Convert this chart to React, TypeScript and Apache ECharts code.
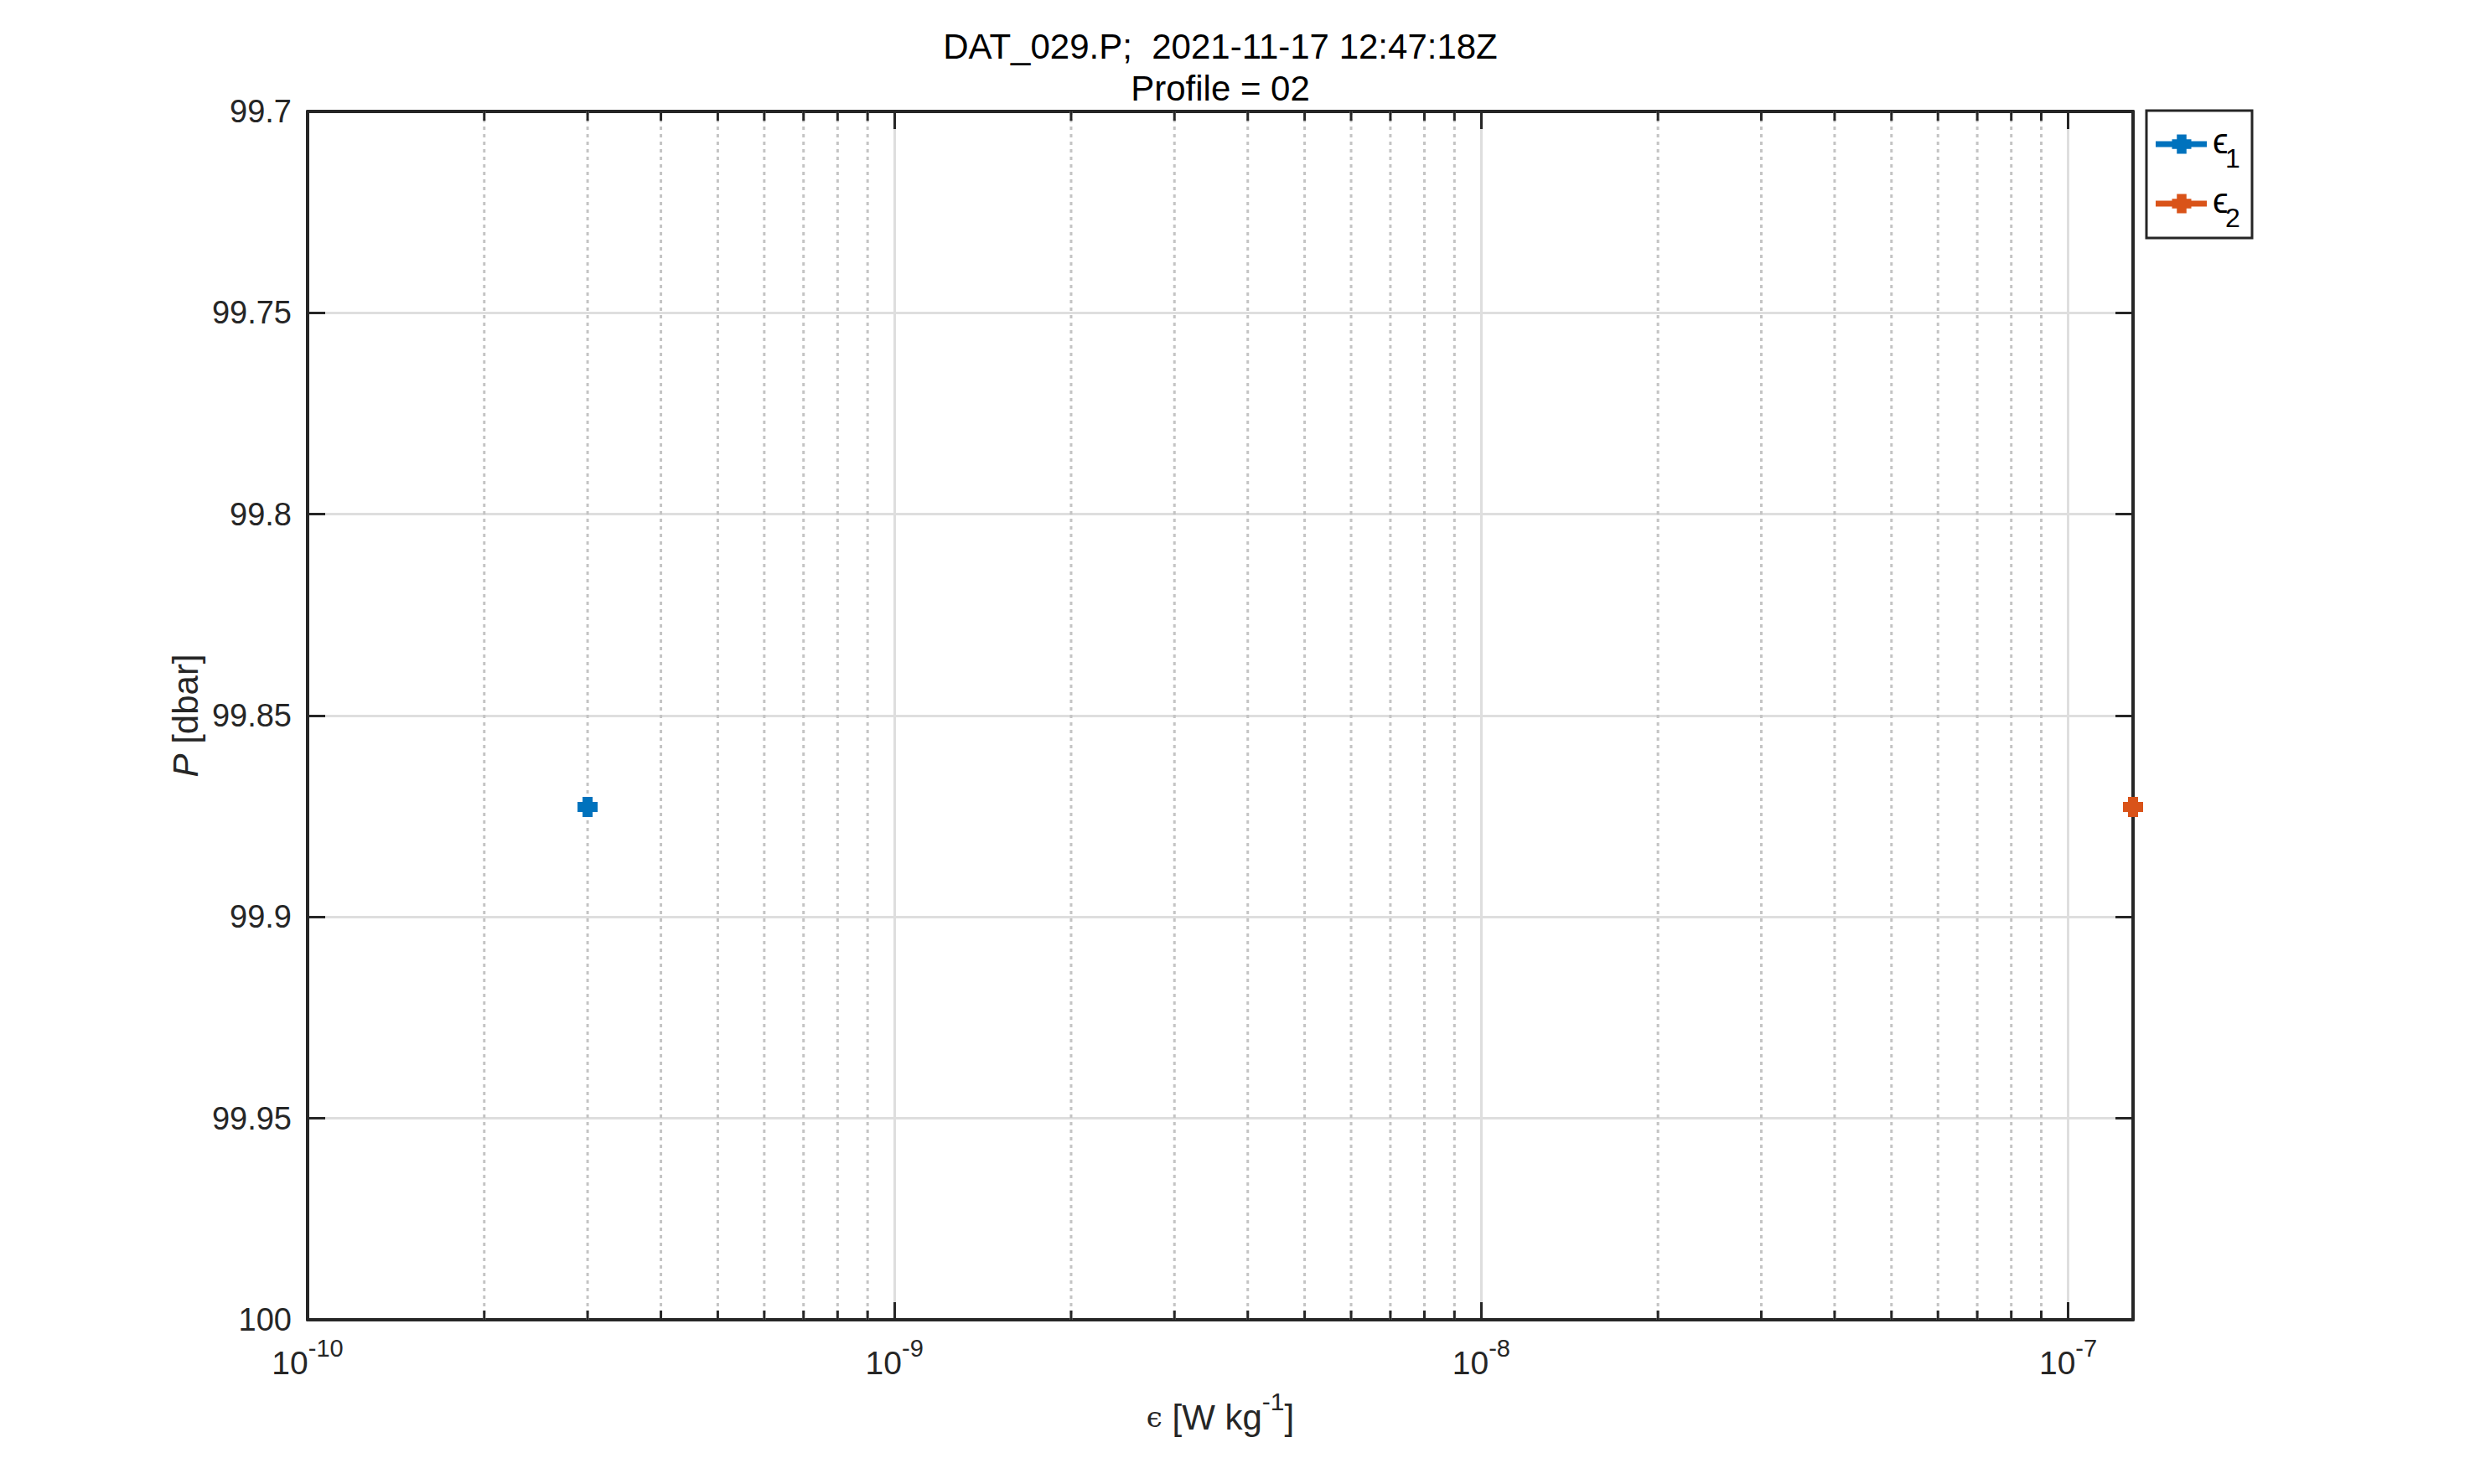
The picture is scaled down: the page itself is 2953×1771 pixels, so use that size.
import React, { useEffect, useRef } from 'react';
import * as echarts from 'echarts';

const titleLine1 = 'DAT_029.P;  2021-11-17 12:47:18Z';
const titleLine2 = 'Profile = 02';
const seriesNames = ['ϵ1', 'ϵ2'];
const eps1Data: [number, number][] = [[3.0e-10, 99.8727]];
const eps2Data: [number, number][] = [[1.29e-7, 99.8727]];
const xMin = 1e-10;
const xMax = 1.29e-7;
const yMin = 99.7;
const yMax = 100;
const yInterval = 0.05;
const minorXTicks = [
  2e-10, 3e-10, 4e-10, 5e-10, 6e-10, 7e-10, 8e-10, 9e-10,
  2e-9, 3e-9, 4e-9, 5e-9, 6e-9, 7e-9, 8e-9, 9e-9,
  2e-8, 3e-8, 4e-8, 5e-8, 6e-8, 7e-8, 8e-8, 9e-8,
];

const BLUE = '#0072BD';
const ORANGE = '#D95319';
const AXIS = '#262626';
const FONT = '"Liberation Sans", Arial, Helvetica, sans-serif';
const PLUS = 'path://M6,0H18V6H24V18H18V24H6V18H0V6H6Z';

function plusPoints(cx: number, cy: number, s: number) {
  const h = s / 2, a = s / 4;
  return [
    [cx - a, cy - h], [cx + a, cy - h], [cx + a, cy - a], [cx + h, cy - a],
    [cx + h, cy + a], [cx + a, cy + a], [cx + a, cy + h], [cx - a, cy + h],
    [cx - a, cy + a], [cx - h, cy + a], [cx - h, cy - a], [cx - a, cy - a],
  ];
}

export default function App() {
  const ref = useRef<HTMLDivElement>(null);
  useEffect(() => {
    if (!ref.current) return;
    const chart = echarts.init(ref.current, null, { renderer: 'svg' });
    const gridLeft = 367, gridTop = 133, gridRight = 2953 - 2545, gridBottom = 1771 - 1575;
    const legendItems = [
      { name: seriesNames[0], color: BLUE, y: 172 },
      { name: seriesNames[1], color: ORANGE, y: 243 },
    ];
    const legendGraphics: any[] = [
      { type: 'rect', shape: { x: 2561, y: 132, width: 126, height: 152 }, style: { fill: '#fff', stroke: AXIS, lineWidth: 3 }, z: 10 },
    ];
    legendItems.forEach((it) => {
      legendGraphics.push({ type: 'line', shape: { x1: 2572, y1: it.y, x2: 2633, y2: it.y }, style: { stroke: it.color, lineWidth: 7 }, z: 11 });
      legendGraphics.push({ type: 'polygon', shape: { points: plusPoints(2603, it.y, 23) }, style: { fill: it.color }, z: 12 });
      legendGraphics.push({ type: 'text', x: 2640, y: it.y - 4, style: { text: 'ϵ', fontSize: 42, fontFamily: FONT, fill: '#000', align: 'left', textAlign: 'left', verticalAlign: 'middle', textVerticalAlign: 'middle' }, z: 12 });
      legendGraphics.push({ type: 'text', x: 2655, y: it.y + 17, style: { text: it.name.slice(1), fontSize: 32, fontFamily: FONT, fill: '#000', align: 'left', textAlign: 'left', verticalAlign: 'middle', textVerticalAlign: 'middle' }, z: 12 });
    });

    const xLabelFmt = (v: number) => {
      const lg = Math.log10(v);
      const e = Math.round(lg);
      if (Math.abs(lg - e) > 0.01) return '';
      return `{b|10}{e|${e}}`;
    };

    const option: any = {
      animation: false,
      backgroundColor: '#fff',
      textStyle: { fontFamily: FONT },
      grid: { left: gridLeft, top: gridTop, right: gridRight, bottom: gridBottom, containLabel: false },
      graphic: [
        { type: 'text', x: 1456, y: 55, style: { text: titleLine1, fontSize: 42, fontFamily: FONT, fill: '#000', align: 'center', textAlign: 'center', verticalAlign: 'middle', textVerticalAlign: 'middle' } },
        { type: 'text', x: 1456, y: 105, style: { text: titleLine2, fontSize: 42, fontFamily: FONT, fill: '#000', align: 'center', textAlign: 'center', verticalAlign: 'middle', textVerticalAlign: 'middle' } },
        ...legendGraphics,
      ],
      xAxis: [
        {
          type: 'log', logBase: 10, min: xMin, max: xMax, position: 'bottom',
          axisLine: { show: true, onZero: false, lineStyle: { color: AXIS, width: 4 } },
          axisTick: { show: true, inside: true, length: 21, lineStyle: { color: AXIS, width: 3 } },
          axisLabel: {
            show: true, margin: 19, showMaxLabel: false, formatter: xLabelFmt, color: '#262626',
            rich: {
              b: { fontSize: 39, fontFamily: FONT, color: '#262626', lineHeight: 64 },
              e: { fontSize: 29, fontFamily: FONT, color: '#262626', lineHeight: 30, verticalAlign: 'top' },
            },
          },
          splitLine: { show: true, lineStyle: { color: '#dedede', width: 3 } },
          name: '{a|ϵ}{b| [W kg}{e|-1}{b|]}',
          nameLocation: 'middle', nameGap: 82,
          nameTextStyle: {
            rich: {
              a: { fontSize: 34, fontFamily: '"DejaVu Serif", serif', color: '#262626', lineHeight: 68 },
              b: { fontSize: 42, fontFamily: FONT, color: '#262626', lineHeight: 68 },
              e: { fontSize: 30, fontFamily: FONT, color: '#262626', lineHeight: 30, verticalAlign: 'top' },
            },
          },
        },
        {
          type: 'log', logBase: 10, min: xMin, max: xMax, position: 'top',
          axisLine: { show: true, onZero: false, lineStyle: { color: AXIS, width: 4 } },
          axisTick: { show: true, inside: true, length: 21, lineStyle: { color: AXIS, width: 3 } },
          axisLabel: { show: false },
          splitLine: { show: false },
        },
      ],
      yAxis: [
        {
          type: 'value', min: yMin, max: yMax, interval: yInterval, inverse: true, position: 'left',
          axisLine: { show: true, onZero: false, lineStyle: { color: AXIS, width: 4 } },
          axisTick: { show: true, inside: true, length: 21, lineStyle: { color: AXIS, width: 3 } },
          axisLabel: {
            show: true, margin: 19, fontSize: 38, fontFamily: FONT, color: '#262626',
            formatter: (v: number) => String(parseFloat(v.toFixed(2))),
          },
          splitLine: { show: true, lineStyle: { color: '#dedede', width: 3 } },
          name: '{i|P}{n| [dbar]}',
          nameLocation: 'middle', nameGap: 121, nameRotate: 90,
          nameTextStyle: {
            rich: {
              i: { fontSize: 42, fontFamily: FONT, fontStyle: 'italic', color: '#262626' },
              n: { fontSize: 42, fontFamily: FONT, color: '#262626' },
            },
          },
        },
        {
          type: 'value', min: yMin, max: yMax, interval: yInterval, inverse: true, position: 'right',
          axisLine: { show: true, onZero: false, lineStyle: { color: AXIS, width: 4 } },
          axisTick: { show: true, inside: true, length: 21, lineStyle: { color: AXIS, width: 3 } },
          axisLabel: { show: false },
          splitLine: { show: false },
        },
      ],
      series: [
        {
          type: 'custom', name: 'minor', xAxisIndex: 0, yAxisIndex: 0, z: 1, silent: true,
          data: minorXTicks.map((v) => [v, yMin]),
          encode: { x: 0, y: 1 },
          renderItem: (params: any, api: any) => {
            const cs = params.coordSys;
            const px = api.coord([api.value(0), yMin])[0];
            const top = cs.y, bot = cs.y + cs.height;
            return {
              type: 'group',
              children: [
                { type: 'line', shape: { x1: px, y1: top, x2: px, y2: bot }, style: { stroke: '#c4c4c4', lineWidth: 3, lineDash: [4, 5] } },
                { type: 'line', shape: { x1: px, y1: bot, x2: px, y2: bot - 11 }, style: { stroke: AXIS, lineWidth: 3 } },
                { type: 'line', shape: { x1: px, y1: top, x2: px, y2: top + 11 }, style: { stroke: AXIS, lineWidth: 3 } },
              ],
            };
          },
        },
        {
          type: 'line', name: seriesNames[0], data: eps1Data, xAxisIndex: 0, yAxisIndex: 0, z: 5,
          symbol: PLUS, symbolSize: 24, showSymbol: true, clip: false,
          lineStyle: { color: BLUE, width: 7 }, itemStyle: { color: BLUE },
        },
        {
          type: 'line', name: seriesNames[1], data: eps2Data, xAxisIndex: 0, yAxisIndex: 0, z: 5,
          symbol: PLUS, symbolSize: 24, showSymbol: true, clip: false,
          lineStyle: { color: ORANGE, width: 7 }, itemStyle: { color: ORANGE },
        },
      ],
    };
    chart.setOption(option);
    return () => chart.dispose();
  }, []);
  return <div ref={ref} style={{ position: 'absolute', left: 0, top: 0, width: '2953px', height: '1771px' }} />;
}
